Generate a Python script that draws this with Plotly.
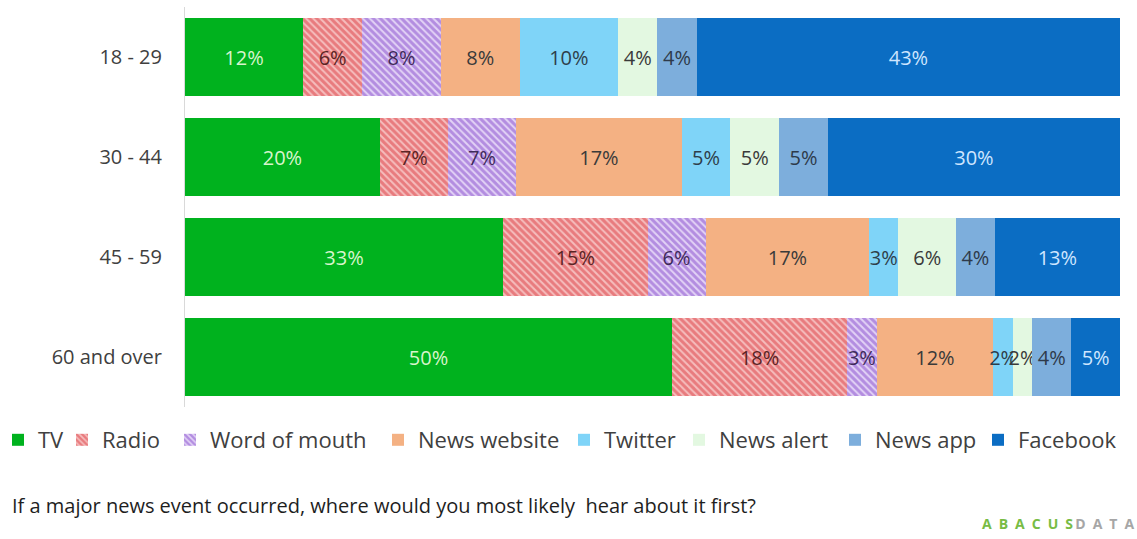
import plotly.graph_objects as go

age_groups = ["18 - 29", "30 - 44", "45 - 59", "60 and over"]
sources = ["TV", "Radio", "Word of mouth", "News website", "Twitter", "News alert", "News app", "Facebook"]

tv = [12, 20, 33, 50]
radio = [6, 7, 15, 18]
word_of_mouth = [8, 7, 6, 3]
news_website = [8, 17, 17, 12]
twitter = [10, 5, 3, 2]
news_alert = [4, 5, 6, 2]
news_app = [4, 5, 4, 4]
facebook = [43, 30, 13, 5]

series = [tv, radio, word_of_mouth, news_website, twitter, news_alert, news_app, facebook]

colors = ["#00B21E", "#F4BDBD", "#DCCBF2", "#F4B183", "#7FD4F8", "#E3F8E1", "#7DAEDC", "#0B6DC3"]
patterns = [None,
            dict(shape="\\", fgcolor="#DC3A40", bgcolor="#F5BDBD", size=5, solidity=0.6),
            dict(shape="\\", fgcolor="#8448CC", bgcolor="#E2D2F5", size=5, solidity=0.6),
            None, None, None, None, None]
label_colors = ["#D8F5CC", "#5A2424", "#3E2A5A", "#3A3A3A", "#2E3E4A", "#3A3A3A", "#2E3A4A", "#CFE6FF"]

FONT = "Open Sans"
# legend text start positions in px
legend_px = [40, 104, 212, 420, 606, 721, 877, 1020]
PL, PR, PT, PB = 185, 17, 7, 132
W, H = 1137, 539
pw = W - PL - PR
ph = H - PT - PB

fig = go.Figure()
for i, (name, vals) in enumerate(zip(sources, series)):
    marker = dict(color=colors[i], line=dict(width=0))
    if patterns[i]:
        marker["pattern"] = patterns[i]
    lg = "legend" if i == 0 else f"legend{i+1}"
    fig.add_trace(go.Bar(
        y=age_groups, x=vals, name=name, orientation="h",
        marker=marker,
        text=[f"{v}%" for v in vals],
        texttemplate="%{text}",
        textposition="inside", insidetextanchor="middle", textangle=0,
        textfont=dict(family=FONT, size=20, color=label_colors[i]),
        hoverinfo="skip",
        legend=lg,
    ))

layout_legends = {}
for i, px in enumerate(legend_px):
    key = "legend" if i == 0 else f"legend{i+1}"
    layout_legends[key] = dict(
        x=(px - 42 - PL) / pw, xanchor="left",
        y=(PT + ph - 440) / ph, yanchor="middle",
        orientation="h", itemwidth=30,
        font=dict(family=FONT, size=22, color="#404040"),
        bgcolor="rgba(0,0,0,0)", borderwidth=0,
        itemclick=False, itemdoubleclick=False,
    )

fig.update_layout(
    width=W, height=H,
    margin=dict(l=PL, r=PR, t=PT, b=PB, autoexpand=False),
    barmode="stack", barnorm="percent", bargap=0.22,
    plot_bgcolor="white", paper_bgcolor="white",
    uniformtext=dict(minsize=20, mode="show"),
    showlegend=True,
    font=dict(family=FONT, color="#404040"),
    xaxis=dict(visible=False, range=[0, 100], fixedrange=True),
    yaxis=dict(autorange="reversed", showgrid=False, zeroline=False,
               showline=True, linecolor="#D9D9D9", linewidth=1,
               ticks="", ticklabelstandoff=18, automargin=False,
               tickfont=dict(family=FONT, size=20, color="#404040")),
    **layout_legends,
)

fig.add_annotation(
    text="If a major news event occurred, where would you most likely  hear about it first?",
    xref="paper", yref="paper", x=(10 - PL) / pw, y=(PT + ph - 505) / ph,
    xanchor="left", yanchor="middle", showarrow=False,
    font=dict(family=FONT, size=20, color="#1E1E1E"),
)
fig.add_annotation(
    text="<span style='color:#78BC45'><b>A\u2002B\u2002A\u2002C\u2002U\u2002S</b></span>\u2009<span style='color:#A6A6A6'><b>D\u2002A\u2002T\u2002A</b></span>",
    xref="paper", yref="paper", x=(1136 - PL) / pw, y=(PT + ph - 523) / ph,
    xanchor="right", yanchor="middle", showarrow=False,
    font=dict(family=FONT, size=14),
)

fig.write_html("out.html")
